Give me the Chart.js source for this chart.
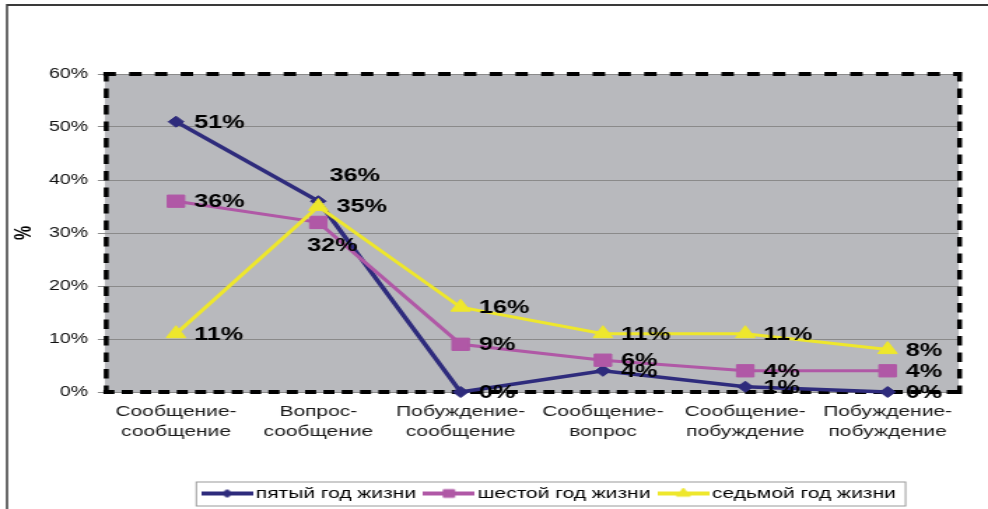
<!DOCTYPE html>
<html>
<head>
<meta charset="utf-8">
<script src="https://cdn.jsdelivr.net/npm/chart.js@4/dist/chart.umd.min.js"></script>
<style>
  html, body { margin: 0; padding: 0; background: #fff; overflow: hidden; }
  /* the drawing surface is narrower than the page and stretched sideways */
  #wrap { width: 706px; height: 509px; transform: scaleX(1.39943); transform-origin: 0 0; }
  #c { display: block; }
</style>
</head>
<body>
<div id="wrap"><canvas id="c" width="706" height="509"></canvas></div>
<script>
// ---- data ----
const categories = [
  ['Сообщение-', 'сообщение'],
  ['Вопрос-', 'сообщение'],
  ['Побуждение-', 'сообщение'],
  ['Сообщение-', 'вопрос'],
  ['Сообщение-', 'побуждение'],
  ['Побуждение-', 'побуждение']
];
const seriesNames = ['пятый год жизни', 'шестой год жизни', 'седьмой год жизни'];
const year5 = [51, 36, 0, 4, 1, 0];
const year6 = [36, 32, 9, 6, 4, 4];
const year7 = [11, 35, 16, 11, 11, 8];
const yTicks = [0, 10, 20, 30, 40, 50, 60];
const yTitle = '%';

// ---- styling ----
const FONT = "'Liberation Sans', Arial, sans-serif";
const NAVY = '#2e2b7c';
const PLUM = '#b058a6';
const YELLOW = '#eee72c';
const PLOT_BG = '#b8b9bd';
const GRID = '#8a8a8a';

// value labels: default offset to the right of the point, with a couple of nudged ones
const LABEL_DX = 13;
const labelNudge = { '0-1': [8, -25], '1-1': [-8, 24] };

// legend placement
const LEGEND_FIRST_X = 149.3;

function legendSample(color, style, radius) {
  const c = document.createElement('canvas');
  c.width = 37; c.height = 12;
  const g = c.getContext('2d');
  g.strokeStyle = color; g.lineWidth = 4;
  g.beginPath(); g.moveTo(0, 6); g.lineTo(37, 6); g.stroke();
  g.fillStyle = color; g.lineWidth = 1;
  Chart.helpers.drawPoint(g, { pointStyle: style, radius: radius, borderWidth: 1, rotation: 0 }, 18.5, 6);
  return c;
}

const frame = {
  id: 'frame',
  beforeDraw(chart) {
    const { ctx, chartArea: a } = chart;
    ctx.save();
    ctx.fillStyle = '#fff';
    ctx.fillRect(0, 0, chart.width, chart.height);
    ctx.strokeStyle = '#3a3a3a';
    ctx.lineWidth = 2;
    ctx.beginPath(); ctx.moveTo(5, 5); ctx.lineTo(chart.width, 5); ctx.stroke();
    ctx.lineWidth = 1.5;
    ctx.beginPath(); ctx.moveTo(5, 4); ctx.lineTo(5, chart.height); ctx.stroke();
    ctx.fillStyle = PLOT_BG;
    ctx.fillRect(a.left, a.top, a.width, a.height);
    ctx.restore();
  }
};

const plotBorder = {
  id: 'plotBorder',
  beforeDatasetsDraw(chart) {
    const { ctx, chartArea: a } = chart;
    const side = (x1, y1, x2, y2, w, dash) => {
      ctx.lineWidth = w; ctx.setLineDash(dash);
      ctx.beginPath(); ctx.moveTo(x1, y1); ctx.lineTo(x2, y2); ctx.stroke();
    };
    ctx.save();
    ctx.strokeStyle = '#000';
    ctx.lineCap = 'butt';
    side(a.left - 1, a.top, a.right + 2, a.top, 4, [8.9, 9.5]);
    side(a.left - 1, a.bottom, a.right + 2, a.bottom, 4, [7.9, 5.2]);
    side(a.left + 1, a.top - 2, a.left + 1, a.bottom + 2, 3.5, [9.5, 7]);
    side(a.right + 0.6, a.top - 2, a.right + 0.6, a.bottom + 2, 3.5, [9.5, 7]);
    ctx.restore();
  }
};

const valueLabels = {
  id: 'valueLabels',
  afterDatasetsDraw(chart) {
    const { ctx } = chart;
    ctx.save();
    ctx.font = `bold 18px ${FONT}`;
    ctx.fillStyle = '#000';
    ctx.textAlign = 'left';
    ctx.textBaseline = 'middle';
    chart.data.datasets.forEach((ds, di) => {
      const meta = chart.getDatasetMeta(di);
      meta.data.forEach((pt, i) => {
        const nudge = labelNudge[di + '-' + i];
        const dx = nudge ? nudge[0] : LABEL_DX;
        const dy = nudge ? nudge[1] : 1;
        ctx.fillText(ds.data[i] + '%', pt.x + dx, pt.y + dy);
      });
    });
    ctx.restore();
  }
};

const legendFrame = {
  id: 'legendFrame',
  afterUpdate(chart) {
    const lg = chart.legend;
    if (!lg || !lg.legendHitBoxes || !lg.legendHitBoxes.length) return;
    const dx = LEGEND_FIRST_X - lg.legendHitBoxes[0].left;
    lg.left += dx; lg.right += dx;
    lg.legendHitBoxes.forEach(h => { h.left += dx; });
  },
  afterDraw(chart) {
    const lg = chart.legend;
    const hb = lg.legendHitBoxes;
    if (!hb || !hb.length) return;
    const first = hb[0], last = hb[hb.length - 1];
    const x1 = first.left - 9;
    const x2 = last.left + last.width + 7;
    const yc = first.top + 7.5;
    const { ctx } = chart;
    ctx.save();
    ctx.strokeStyle = '#9a9a9a';
    ctx.lineWidth = 1;
    ctx.strokeRect(x1, yc - 12 + 0.5, x2 - x1, 24);
    ctx.restore();
  }
};

const samples = [
  legendSample(NAVY, 'rectRot', 4),
  legendSample(PLUM, 'rect', 5.5),
  legendSample(YELLOW, 'triangle', 5.5)
];

new Chart(document.getElementById('c'), {
  type: 'line',
  data: {
    labels: categories,
    datasets: [
      { label: seriesNames[0], data: year5, order: 3, borderColor: NAVY, backgroundColor: NAVY,
        borderWidth: 3.5, pointStyle: 'rectRot', pointRadius: 5.5, pointBorderWidth: 1, clip: false },
      { label: seriesNames[1], data: year6, order: 2, borderColor: PLUM, backgroundColor: PLUM,
        borderWidth: 3, pointStyle: 'rect', pointRadius: 8.7, pointBorderWidth: 1, clip: false },
      { label: seriesNames[2], data: year7, order: 1, borderColor: YELLOW, backgroundColor: YELLOW,
        borderWidth: 3, pointStyle: 'triangle', pointRadius: 8, pointBorderWidth: 1, clip: false }
    ]
  },
  options: {
    responsive: false,
    animation: false,
    devicePixelRatio: 1,
    layout: { padding: { top: 74, right: 20.9, bottom: -2, left: 0 } },
    scales: {
      x: {
        offset: true,
        grid: { display: false, drawTicks: false },
        border: { display: false },
        ticks: {
          autoSkip: false, maxRotation: 0, minRotation: 0, padding: 10.5, color: '#1a1a1a',
          font: { family: FONT, size: 15, lineHeight: 1.3 }
        },
        afterFit(scale) { scale.height = 83.5; }
      },
      y: {
        min: 0, max: 60,
        afterBuildTicks(scale) { scale.ticks = yTicks.map(v => ({ value: v })); },
        grid: { color: GRID, lineWidth: 1, tickLength: 5, tickColor: GRID },
        border: { display: false },
        ticks: {
          padding: 7, color: '#111',
          font: { family: FONT, size: 14 },
          callback: v => v + '%'
        },
        title: {
          display: true, text: yTitle, color: '#000',
          font: { family: FONT, size: 16, weight: 'bold', lineHeight: 1.2 },
          padding: { top: 8.3, bottom: 0 }
        },
        afterFit(scale) { scale.width = 74.9; }
      }
    },
    plugins: {
      tooltip: { enabled: false },
      legend: {
        position: 'bottom',
        labels: {
          usePointStyle: true,
          pointStyleWidth: 26,
          padding: 10.5,
          color: '#000',
          font: { family: FONT, size: 15 },
          generateLabels(chart) {
            return chart.data.datasets.map((ds, i) => ({
              text: ds.label,
              pointStyle: samples[i],
              fillStyle: ds.borderColor,
              strokeStyle: ds.borderColor,
              fontColor: '#000',
              lineWidth: 0,
              hidden: false,
              datasetIndex: i
            }));
          }
        }
      }
    }
  },
  plugins: [frame, plotBorder, valueLabels, legendFrame]
});
</script>
</body>
</html>
